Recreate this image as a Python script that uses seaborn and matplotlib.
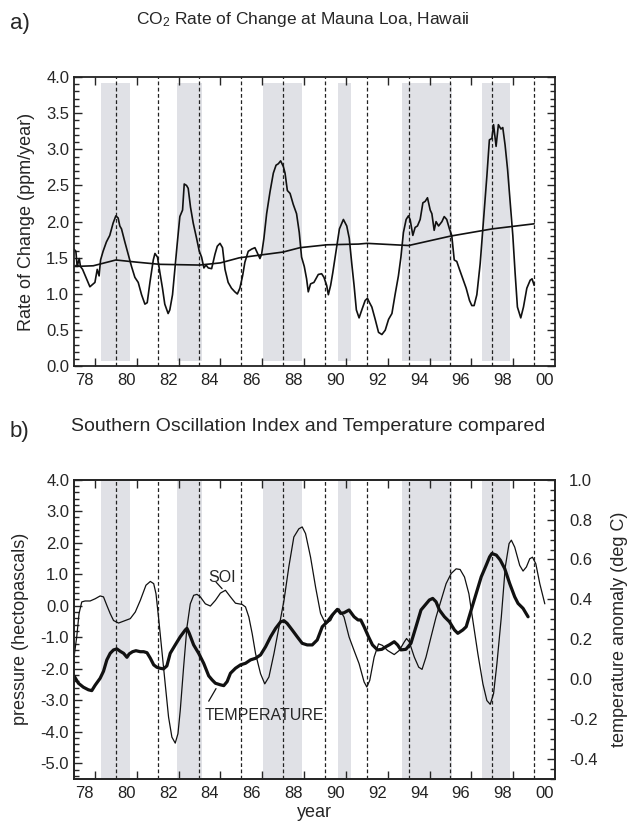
import matplotlib
matplotlib.use("Agg")
import numpy as np
import pandas as pd
import matplotlib.pyplot as plt
import seaborn as sns
from matplotlib.ticker import FixedLocator, MultipleLocator, FuncFormatter

# --- data ---
co2_year = [1978.0, 1978.09, 1978.15, 1978.25, 1978.31, 1978.41, 1978.6, 1978.76, 1978.92, 1979.0,
            1979.11, 1979.2, 1979.27, 1979.39, 1979.55, 1979.71, 1979.87, 1980.0, 1980.11, 1980.19,
            1980.27, 1980.43, 1980.59, 1980.75, 1980.91, 1981.07, 1981.23, 1981.39, 1981.5, 1981.63,
            1981.79, 1981.87, 1981.99, 1982.11, 1982.23, 1982.34, 1982.5, 1982.58, 1982.71, 1982.82,
            1982.93, 1983.06, 1983.19, 1983.27, 1983.38, 1983.46, 1983.57, 1983.7, 1983.86, 1983.99,
            1984.1, 1984.21, 1984.31, 1984.42, 1984.58, 1984.74, 1984.85, 1984.98, 1985.1, 1985.22,
            1985.37, 1985.53, 1985.69, 1985.81, 1985.93, 1986.06, 1986.17, 1986.33, 1986.49, 1986.65,
            1986.76, 1986.89, 1986.97, 1987.08, 1987.21, 1987.37, 1987.53, 1987.66, 1987.77, 1987.88,
            1988.01, 1988.09, 1988.2, 1988.33, 1988.48, 1988.64, 1988.77, 1988.88, 1989.01, 1989.12,
            1989.2, 1989.31, 1989.47, 1989.68, 1989.84, 1989.95, 1990.08, 1990.16, 1990.27, 1990.37,
            1990.53, 1990.69, 1990.88, 1991.04, 1991.16, 1991.28, 1991.39, 1991.5, 1991.63, 1991.76,
            1991.92, 1992.03, 1992.13, 1992.24, 1992.4, 1992.56, 1992.72, 1992.88, 1993.04, 1993.2,
            1993.35, 1993.51, 1993.63, 1993.75, 1993.88, 1993.99, 1994.07, 1994.2, 1994.31, 1994.42,
            1994.55, 1994.68, 1994.79, 1994.9, 1995.03, 1995.11, 1995.22, 1995.31, 1995.43, 1995.59,
            1995.7, 1995.82, 1995.95, 1996.06, 1996.18, 1996.3, 1996.43, 1996.59, 1996.75, 1996.91,
            1997.02, 1997.13, 1997.26, 1997.42, 1997.58, 1997.74, 1997.86, 1997.98, 1998.06, 1998.18,
            1998.29, 1998.41, 1998.5, 1998.61, 1998.73, 1998.85, 1998.98, 1999.09, 1999.2, 1999.36,
            1999.49, 1999.65, 1999.81, 1999.9, 2000.0]
co2_rate = [1.62, 1.59, 1.38, 1.49, 1.38, 1.34, 1.21, 1.10, 1.14, 1.16,
            1.34, 1.25, 1.47, 1.59, 1.72, 1.81, 1.98, 2.08, 2.05, 1.94,
            1.90, 1.72, 1.55, 1.38, 1.23, 1.16, 0.99, 0.86, 0.88, 1.16,
            1.47, 1.56, 1.51, 1.29, 1.08, 0.86, 0.73, 0.78, 0.99, 1.34,
            1.68, 2.07, 2.16, 2.52, 2.50, 2.46, 2.20, 1.98, 1.77, 1.59,
            1.51, 1.36, 1.40, 1.36, 1.35, 1.55, 1.66, 1.70, 1.64, 1.34,
            1.16, 1.08, 1.03, 1.00, 1.08, 1.25, 1.44, 1.59, 1.62, 1.64,
            1.57, 1.49, 1.55, 1.77, 2.11, 2.41, 2.67, 2.78, 2.80, 2.84,
            2.76, 2.67, 2.43, 2.39, 2.24, 2.11, 1.85, 1.51, 1.38, 1.21,
            1.03, 1.14, 1.16, 1.27, 1.28, 1.23, 1.12, 0.99, 1.12, 1.29,
            1.59, 1.90, 2.03, 1.94, 1.77, 1.42, 1.12, 0.78, 0.67, 0.78,
            0.91, 0.94, 0.88, 0.82, 0.65, 0.47, 0.44, 0.50, 0.65, 0.73,
            0.99, 1.25, 1.51, 1.85, 2.03, 2.08, 2.03, 1.81, 1.92, 1.94,
            2.03, 2.26, 2.28, 2.33, 2.16, 2.11, 1.88, 2.00, 1.94, 2.00,
            2.07, 2.03, 1.90, 1.81, 1.47, 1.45, 1.34, 1.21, 1.08, 0.91,
            0.84, 0.84, 0.99, 1.42, 2.03, 2.63, 3.13, 3.15, 3.34, 3.04,
            3.34, 3.28, 3.30, 3.06, 2.72, 2.28, 1.81, 1.29, 0.82, 0.67,
            0.82, 1.08, 1.19, 1.21, 1.12]

trend_year = [1978.0, 1978.92, 1980.0, 1981.0, 1982.1, 1984.0, 1985.0, 1985.9, 1988.0,
              1988.8, 1990.1, 1991.6, 1992.0, 1994.0, 1996.0, 1998.0, 2000.0]
trend_rate = [1.38, 1.39, 1.47, 1.44, 1.41, 1.40, 1.43, 1.50, 1.58,
              1.64, 1.68, 1.69, 1.70, 1.67, 1.80, 1.90, 1.97]

soi_year = [1978.0, 1978.13, 1978.24, 1978.37, 1978.53, 1978.77, 1979.01, 1979.25, 1979.41, 1979.57,
            1979.73, 1979.89, 1980.13, 1980.37, 1980.69, 1980.93, 1981.17, 1981.44, 1981.65, 1981.81,
            1981.92, 1982.04, 1982.2, 1982.36, 1982.52, 1982.68, 1982.84, 1982.97, 1983.08, 1983.24,
            1983.4, 1983.56, 1983.72, 1983.88, 1984.04, 1984.28, 1984.52, 1984.76, 1985.0, 1985.24,
            1985.48, 1985.72, 1986.04, 1986.2, 1986.36, 1986.52, 1986.68, 1986.92, 1987.12, 1987.32,
            1987.56, 1987.8, 1988.04, 1988.27, 1988.51, 1988.75, 1988.91, 1989.07, 1989.31, 1989.55,
            1989.79, 1990.03, 1990.27, 1990.51, 1990.67, 1990.91, 1991.15, 1991.39, 1991.63, 1991.87,
            1992.0, 1992.14, 1992.35, 1992.56, 1992.75, 1992.99, 1993.31, 1993.55, 1993.79, 1993.9,
            1994.03, 1994.27, 1994.48, 1994.64, 1994.83, 1995.07, 1995.31, 1995.55, 1995.79, 1996.03,
            1996.27, 1996.46, 1996.67, 1996.88, 1997.07, 1997.31, 1997.55, 1997.74, 1997.9, 1998.06,
            1998.22, 1998.43, 1998.62, 1998.8, 1998.91, 1999.07, 1999.31, 1999.47, 1999.63, 1999.79,
            1999.92, 2000.08, 2000.27, 2000.51]
soi_hpa = [-1.63, -0.99, -0.25, 0.12, 0.15, 0.15, 0.22, 0.31, 0.28, 0.01,
           -0.25, -0.47, -0.55, -0.49, -0.41, -0.20, 0.17, 0.65, 0.77, 0.70,
           0.38, -0.36, -1.42, -2.48, -3.53, -4.17, -4.36, -4.06, -3.32, -1.95,
           -0.68, 0.06, 0.33, 0.36, 0.28, 0.06, -0.01, 0.17, 0.40, 0.49,
           0.28, 0.08, 0.04, -0.04, -0.36, -0.89, -1.52, -2.16, -2.48, -2.26,
           -1.52, -0.68, 0.17, 1.23, 2.18, 2.44, 2.50, 2.29, 1.54, 0.59,
           -0.25, -0.57, -0.47, -0.15, -0.10, -0.36, -0.99, -1.42, -1.84, -2.42,
           -2.58, -2.37, -1.63, -1.21, -1.26, -1.42, -1.55, -1.42, -1.15, -1.04,
           -1.15, -1.63, -1.95, -2.02, -1.63, -0.99, -0.36, 0.17, 0.70, 1.02,
           1.17, 1.15, 0.91, 0.38, -0.47, -1.53, -2.48, -3.01, -3.13, -2.79,
           -1.84, -0.36, 1.23, 1.97, 2.08, 1.86, 1.28, 1.10, 1.23, 1.49,
           1.54, 1.33, 0.70, 0.06]

temp_year = [1978.0, 1978.21, 1978.45, 1978.69, 1978.85, 1979.01, 1979.25, 1979.41, 1979.57, 1979.73,
             1979.89, 1980.05, 1980.21, 1980.37, 1980.53, 1980.64, 1980.8, 1980.96, 1981.17, 1981.33,
             1981.49, 1981.65, 1981.81, 1981.96, 1982.12, 1982.28, 1982.44, 1982.6, 1982.84, 1983.08,
             1983.32, 1983.4, 1983.51, 1983.72, 1983.96, 1984.2, 1984.44, 1984.6, 1984.76, 1985.0,
             1985.16, 1985.32, 1985.48, 1985.72, 1985.96, 1986.2, 1986.44, 1986.68, 1986.92, 1987.16,
             1987.4, 1987.64, 1987.88, 1988.04, 1988.19, 1988.43, 1988.67, 1988.91, 1989.15, 1989.39,
             1989.63, 1989.87, 1990.11, 1990.35, 1990.59, 1990.75, 1990.91, 1991.15, 1991.39, 1991.58,
             1991.71, 1991.87, 1992.08, 1992.27, 1992.51, 1992.72, 1992.91, 1993.07, 1993.31, 1993.47,
             1993.63, 1993.87, 1994.11, 1994.35, 1994.59, 1994.83, 1994.99, 1995.15, 1995.31, 1995.47,
             1995.71, 1995.95, 1996.19, 1996.35, 1996.59, 1996.75, 1996.99, 1997.23, 1997.47, 1997.71,
             1997.87, 1997.98, 1998.19, 1998.38, 1998.59, 1998.83, 1999.07, 1999.23, 1999.47, 1999.71]
temp_anom = [0.017, -0.02, -0.04, -0.053, -0.057, -0.03, 0.005, 0.04, 0.097, 0.13,
             0.147, 0.152, 0.14, 0.13, 0.11, 0.127, 0.138, 0.143, 0.138, 0.138,
             0.133, 0.105, 0.072, 0.06, 0.055, 0.052, 0.067, 0.13, 0.172, 0.213,
             0.247, 0.255, 0.23, 0.172, 0.13, 0.08, 0.017, -0.003, -0.02, -0.028,
             -0.032, -0.012, 0.03, 0.055, 0.072, 0.08, 0.097, 0.105, 0.122, 0.163,
             0.213, 0.255, 0.288, 0.293, 0.28, 0.247, 0.213, 0.18, 0.172, 0.172,
             0.197, 0.263, 0.288, 0.322, 0.35, 0.33, 0.333, 0.347, 0.313, 0.297,
             0.297, 0.263, 0.213, 0.172, 0.147, 0.15, 0.163, 0.172, 0.188, 0.172,
             0.147, 0.15, 0.18, 0.263, 0.347, 0.377, 0.397, 0.405, 0.388, 0.347,
             0.313, 0.288, 0.247, 0.23, 0.247, 0.263, 0.347, 0.43, 0.513, 0.572,
             0.613, 0.63, 0.622, 0.597, 0.555, 0.48, 0.413, 0.38, 0.355, 0.313]

# shaded periods and dashed year markers
shade_start = [1979.27, 1982.93, 1987.03, 1990.63, 1993.7, 1997.5]
shade_end = [1980.7, 1984.1, 1988.88, 1991.24, 1996.05, 1998.85]
marker_years = [1980, 1982, 1984, 1986, 1988, 1990, 1992, 1994, 1996, 1998, 2000]
tick_years = [1979, 1981, 1983, 1985, 1987, 1989, 1991, 1993, 1995, 1997, 1999]
label_pos = [1978.5, 1980.5, 1982.5, 1984.5, 1986.5, 1988.5, 1990.5, 1992.5, 1994.5,
             1996.5, 1998.5, 2000.5]
label_text = ["78", "80", "82", "84", "86", "88", "90", "92", "94", "96", "98", "00"]

sns.set_theme(style="ticks")
plt.rcParams['font.family'] = ['Liberation Sans', 'DejaVu Sans']
plt.rcParams['axes.unicode_minus'] = False
plt.rcParams['mathtext.fontset'] = 'custom'
plt.rcParams['mathtext.rm'] = 'Liberation Sans'
plt.rcParams['mathtext.it'] = 'Liberation Sans:italic'

shade_col = "#e0e1e6"
fmt1 = FuncFormatter(lambda v, p: "%.1f" % v)


def style_x(ax):
    ax.set_xlim(1978.0, 2001.0)
    ax.xaxis.set_major_locator(FixedLocator(tick_years))
    ax.xaxis.set_major_formatter(FuncFormatter(lambda v, p: ""))
    ax.xaxis.set_minor_locator(FixedLocator(label_pos))
    ax.xaxis.set_minor_formatter(FuncFormatter(lambda v, p: label_text[label_pos.index(v)] if v in label_pos else ""))
    ax.tick_params(axis="x", which="major", direction="in", length=6, width=1, top=True, bottom=True)
    ax.tick_params(axis="x", which="minor", length=0, labelsize=12, pad=5, colors="#222222")
    for ys in ["left", "right", "top", "bottom"]:
        ax.spines[ys].set_linewidth(1.3)
        ax.spines[ys].set_color("#222222")


def shade(ax, lo, hi):
    for s, e in zip(shade_start, shade_end):
        ax.axvspan(s, e, ymin=lo, ymax=hi, color=shade_col, lw=0, zorder=0)
    for yr in marker_years:
        ax.axvline(yr, color="#222222", lw=0.9, ls=(0, (3, 2)), zorder=1)


fig = plt.figure(figsize=(6.38, 8.27), dpi=100)

# Panel a
ax1 = fig.add_axes([0.116, 0.557, 0.754, 0.350])
shade(ax1, 0.02, 0.98)
df_co2 = pd.DataFrame({"year": co2_year, "rate": co2_rate})
df_trend = pd.DataFrame({"year": trend_year, "rate": trend_rate})
sns.lineplot(data=df_co2, x="year", y="rate", ax=ax1, color="#111111", lw=1.2, estimator=None)
sns.lineplot(data=df_trend, x="year", y="rate", ax=ax1, color="#111111", lw=1.2, estimator=None)
ax1.set_ylim(0, 4.0)
ax1.yaxis.set_major_locator(MultipleLocator(0.5))
ax1.yaxis.set_minor_locator(MultipleLocator(0.1))
ax1.yaxis.set_major_formatter(fmt1)
ax1.tick_params(axis="y", which="major", direction="in", length=6, width=1, left=True, right=True, labelsize=12)
ax1.tick_params(axis="y", which="minor", direction="in", length=3.5, width=1, left=True, right=True)
style_x(ax1)
ax1.set_xlabel("")
ax1.set_ylabel("Rate of Change (ppm/year)", fontsize=13, labelpad=8)
fig.text(0.475, 0.977, r"CO$_2$ Rate of Change at Mauna Loa, Hawaii", ha="center", va="center", fontsize=12.5)
fig.text(0.015, 0.972, "a)", ha="left", va="center", fontsize=16)

# Panel b
ax2 = fig.add_axes([0.116, 0.058, 0.754, 0.362])
shade(ax2, 0.0, 1.0)
df_soi = pd.DataFrame({"year": soi_year, "soi": soi_hpa})
sns.lineplot(data=df_soi, x="year", y="soi", ax=ax2, color="#111111", lw=0.9, estimator=None)
ax2.set_ylim(-5.5, 4.0)
ax2.yaxis.set_major_locator(MultipleLocator(1.0))
ax2.yaxis.set_minor_locator(MultipleLocator(0.2))
ax2.yaxis.set_major_formatter(fmt1)
ax2.tick_params(axis="y", which="major", direction="in", length=6, width=1, left=True, right=False, labelsize=12)
ax2.tick_params(axis="y", which="minor", direction="in", length=3.5, width=1, left=True, right=False)
style_x(ax2)
ax2.set_xlabel("year", fontsize=13, labelpad=2)
ax2.set_ylabel("pressure (hectopascals)", fontsize=13, labelpad=8)

ax3 = ax2.twinx()
df_temp = pd.DataFrame({"year": temp_year, "temp": temp_anom})
sns.lineplot(data=df_temp, x="year", y="temp", ax=ax3, color="#111111", lw=2.3, estimator=None)
ax3.set_ylim(-0.5, 1.0)
ax3.yaxis.set_major_locator(MultipleLocator(0.2))
ax3.yaxis.set_minor_locator(MultipleLocator(0.05))
ax3.yaxis.set_major_formatter(fmt1)
ax3.tick_params(axis="y", which="major", direction="in", length=6, width=1, right=True, labelsize=12, pad=10)
ax3.tick_params(axis="y", which="minor", direction="in", length=3.5, width=1, right=True)
ax3.set_ylabel("temperature anomaly (deg C)", fontsize=13, labelpad=10)
ax3.set_xlim(1978.0, 2001.0)
ax3.set_xlabel("")

ax2.text(1985.08, 0.91, "SOI", ha="center", va="center", fontsize=11.5)
ax2.plot([1984.79, 1985.08], [0.75, 0.54], color="#111111", lw=0.9)
ax2.text(1987.11, -3.48, "TEMPERATURE", ha="center", va="center", fontsize=11.5)
ax2.plot([1984.44, 1984.79], [-3.03, -2.63], color="#111111", lw=0.9)

fig.text(0.112, 0.484, "Southern Oscillation Index and Temperature compared", ha="left", va="center", fontsize=14)
fig.text(0.015, 0.478, "b)", ha="left", va="center", fontsize=16)

plt.savefig("out.png", dpi=100)
